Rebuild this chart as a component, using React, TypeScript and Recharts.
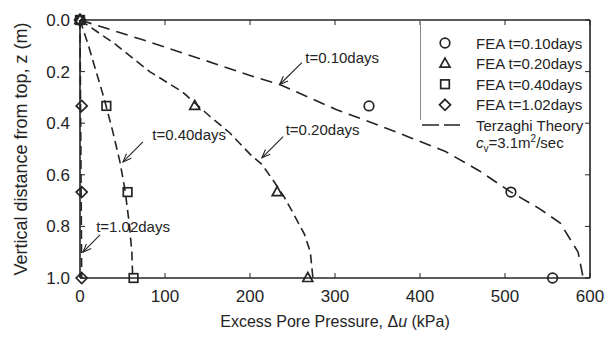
import React from 'react';
import { ScatterChart, Scatter, XAxis, YAxis, ReferenceLine, ReferenceDot, Legend } from 'recharts';

// FEA results: depth z (m) against excess pore pressure (kPa)
const feaDepths = [0, 0.333, 0.667, 1.0];
const fea010 = [0, 340, 507, 556];
const fea020 = [0, 135, 232, 268];
const fea040 = [0, 31, 56, 63];
const fea102 = [0, 2, 2, 2];

// Terzaghi theory curves, [u (kPa), z (m)]
const theory010 = [[0, 0], [72, 0.075], [144, 0.153], [200, 0.215], [235, 0.25], [302, 0.348], [345, 0.4], [388, 0.455], [430, 0.51], [470, 0.585], [506, 0.665], [540, 0.73], [565, 0.787], [586, 0.9], [592, 1.0]];
const theory020 = [[0, 0], [40, 0.09], [82, 0.2], [121, 0.28], [153, 0.374], [176, 0.437], [200, 0.52], [214, 0.56], [227, 0.62], [240, 0.685], [251, 0.75], [264, 0.83], [271, 0.9], [274, 1.0]];
const theory040 = [[0, 0], [10, 0.1], [19, 0.2], [28, 0.3], [38, 0.425], [47, 0.55], [53, 0.66], [58, 0.79], [61, 0.9], [62, 1.0]];
const theory102 = [[0, 0], [1, 0.5], [2, 1.0]];

const seriesNames = ['FEA t=0.10days', 'FEA t=0.20days', 'FEA t=0.40days', 'FEA t=1.02days'];
const xTicks = [0, 100, 200, 300, 400, 500, 600];
const yTicks = [0, 0.2, 0.4, 0.6, 0.8, 1.0];

// curve labels: text at [u, z], arrow from tail to tip
const notes = [
  { text: 't=0.10days', at: [265, 0.146], tail: [261, 0.165], tip: [235, 0.25] },
  { text: 't=0.20days', at: [242, 0.425], tail: [239, 0.452], tip: [214, 0.534] },
  { text: 't=0.40days', at: [85, 0.445], tail: [74, 0.472], tip: [50.6, 0.55] },
  { text: 't=1.02days', at: [19, 0.8], tail: [23.5, 0.833], tip: [3.5, 0.9] },
];

const toPoints = (vals: number[]) => vals.map((u, i) => ({ u, z: feaDepths[i] }));
const toCurve = (pts: number[][]) => pts.map(([u, z]) => ({ u, z }));

const ink = '#242424';
const font = '"Liberation Sans", Arial, sans-serif';
const dashes = ['12 7', '9 5', '9 5', '9 5'];

type Kind = 'circle' | 'triangle' | 'square' | 'diamond';
const kinds: Kind[] = ['circle', 'triangle', 'square', 'diamond'];

const Marker = ({ kind, cx, cy }: { kind: Kind; cx: number; cy: number }) => {
  const st = { fill: 'none', stroke: ink, strokeWidth: 1.7 };
  if (kind === 'circle') return <circle cx={cx} cy={cy} r={4.8} {...st} />;
  if (kind === 'triangle')
    return <polygon points={`${cx},${cy - 5.5} ${cx + 5},${cy + 3.5} ${cx - 5},${cy + 3.5}`} {...st} />;
  if (kind === 'square') return <rect x={cx - 4.3} y={cy - 4.3} width={8.6} height={8.6} {...st} />;
  return <polygon points={`${cx},${cy - 5.5} ${cx + 5.5},${cy} ${cx},${cy + 5.5} ${cx - 5.5},${cy}`} {...st} />;
};

const Arrow = (p: any) => {
  const { x1, y1, x2, y2 } = p;
  const a = Math.atan2(y2 - y1, x2 - x1);
  const len = 9;
  const s = 0.38;
  const h = `${x2 - len * Math.cos(a - s)},${y2 - len * Math.sin(a - s)} ${x2},${y2} ${x2 - len * Math.cos(a + s)},${y2 - len * Math.sin(a + s)}`;
  return (
    <g stroke={ink} strokeWidth={1.1} fill="none">
      <line x1={x1} y1={y1} x2={x2} y2={y2} />
      <polyline points={h} />
    </g>
  );
};

const LegendBox = () => (
  <svg width={172} height={140} style={{ display: 'block', fontFamily: font }}>
    <line x1={0.5} y1={0} x2={0.5} y2={100} stroke="#888" strokeWidth={1} />
    {seriesNames.map((name, i) => (
      <g key={name}>
        <Marker kind={kinds[i]} cx={25} cy={23 + i * 20.6} />
        <text x={56} y={23 + i * 20.6} dominantBaseline="central" fontSize={15} fill={ink}>{name}</text>
      </g>
    ))}
    <line x1={2} y1={105} x2={40} y2={105} stroke={ink} strokeWidth={1.6} strokeDasharray="17 5" />
    <text x={56} y={105} dominantBaseline="central" fontSize={15} fill={ink}>Terzaghi Theory</text>
    <text x={56} y={128} fontSize={15} fill={ink}>
      <tspan fontStyle="italic">c</tspan>
      <tspan dy={4} fontSize={10}>v</tspan>
      <tspan dy={-4}>=3.1m</tspan>
      <tspan dy={-6} fontSize={10}>2</tspan>
      <tspan dy={6}>/sec</tspan>
    </text>
  </svg>
);

const tickStyle = { fontSize: 17, fill: ink };
const lineStyle = { stroke: ink, strokeWidth: 1.6 };

export default function App() {
  const fea = [fea010, fea020, fea040, fea102];
  const curves = [theory010, theory020, theory040, theory102];
  return (
    <div style={{ position: 'fixed', left: 0, top: 0, width: 614, height: 341, background: '#fff', fontFamily: font }}>
      <ScatterChart width={614} height={341} margin={{ top: 19, right: 23, left: 0, bottom: 0 }}>
        <XAxis
          type="number"
          dataKey="u"
          domain={[0, 600]}
          ticks={xTicks}
          height={63}
          tickSize={-5}
          tickMargin={17}
          tick={tickStyle}
          axisLine={lineStyle}
          tickLine={{ stroke: ink }}
          label={{
            content: (props: any) => {
              const vb = props.viewBox;
              return (
                <text x={vb.x + vb.width / 2} y={vb.y + 43} textAnchor="middle" dominantBaseline="central" fontSize={16} fill={ink}>
                  Excess Pore Pressure, Δ<tspan fontStyle="italic">u</tspan> (kPa)
                </text>
              );
            },
          }}
        />
        <XAxis
          xAxisId="top"
          orientation="top"
          type="number"
          dataKey="u"
          domain={[0, 600]}
          ticks={xTicks}
          height={1}
          tickSize={-5}
          tickFormatter={() => ''}
          axisLine={lineStyle}
          tickLine={{ stroke: ink }}
        />
        <YAxis
          type="number"
          dataKey="z"
          domain={[0, 1]}
          reversed
          ticks={yTicks}
          width={80}
          tickSize={-5}
          tickMargin={15}
          tick={tickStyle}
          tickFormatter={(v: number) => v.toFixed(1)}
          axisLine={lineStyle}
          tickLine={{ stroke: ink }}
          label={{
            content: (props: any) => {
              const vb = props.viewBox;
              const cx = vb.x + 21;
              const cy = vb.y + vb.height / 2;
              return (
                <text x={cx} y={cy} transform={`rotate(-90 ${cx} ${cy})`} textAnchor="middle" dominantBaseline="central" fontSize={18} fill={ink}>
                  Vertical distance from top, z (m)
                </text>
              );
            },
          }}
        />
        <YAxis
          yAxisId="right"
          orientation="right"
          type="number"
          dataKey="z"
          domain={[0, 1]}
          reversed
          ticks={yTicks}
          width={1}
          tickSize={-5}
          tickFormatter={() => ''}
          axisLine={lineStyle}
          tickLine={{ stroke: ink }}
        />

        {/* invisible series so the top/right frame axes get drawn */}
        <Scatter
          xAxisId="top"
          yAxisId="right"
          data={toPoints(fea010)}
          shape={() => <g />}
          isAnimationActive={false}
          legendType="none"
        />

        {curves.map((c, i) => (
          <Scatter
            key={'theory' + i}
            name={'Terzaghi ' + i}
            data={toCurve(c)}
            line={{ stroke: ink, strokeWidth: 1.6, strokeDasharray: dashes[i] }}
            lineType="joint"
            shape={() => <g />}
            isAnimationActive={false}
            legendType="none"
          />
        ))}
        {fea.map((vals, i) => (
          <Scatter
            key={seriesNames[i]}
            name={seriesNames[i]}
            data={toPoints(vals)}
            shape={(p: any) => <Marker kind={kinds[i]} cx={p.cx} cy={p.cy} />}
            isAnimationActive={false}
          />
        ))}

        {notes.map((n) => (
          <ReferenceLine
            key={'arrow' + n.text}
            segment={[{ x: n.tail[0], y: n.tail[1] }, { x: n.tip[0], y: n.tip[1] }]}
            shape={Arrow}
          />
        ))}
        {notes.map((n) => (
          <ReferenceDot
            key={'note' + n.text}
            x={n.at[0]}
            y={n.at[1]}
            r={0}
            shape={(p: any) => (
              <text x={p.cx} y={p.cy} dominantBaseline="central" fontSize={15} fill={ink}>{n.text}</text>
            )}
          />
        ))}

        <Legend
          layout="vertical"
          align="center"
          verticalAlign="middle"
          wrapperStyle={{ left: 420, top: 20, width: 172, height: 140 }}
          content={() => <LegendBox />}
        />
      </ScatterChart>
    </div>
  );
}
